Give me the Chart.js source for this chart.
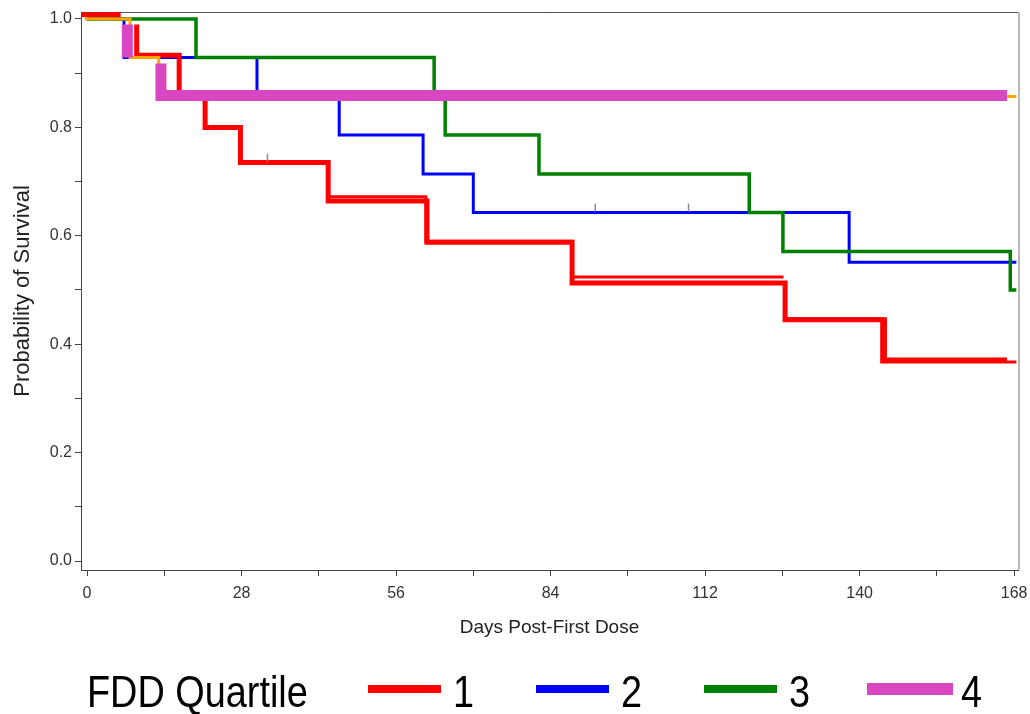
<!DOCTYPE html>
<html>
<head>
<meta charset="utf-8">
<script src="https://cdn.jsdelivr.net/npm/chart.js@4/dist/chart.umd.min.js"></script>
<style>
  html, body { margin: 0; padding: 0; background: #fff; }
  #wrap { position: relative; width: 1030px; height: 714px; overflow: hidden; }
  #c { position: absolute; left: 0; top: 0; }
  #legend { position: absolute; left: 87px; top: 670px; height: 44px; display: flex; align-items: center;
            font-family: "Liberation Sans", Arial, sans-serif;
            font-size: 44px; line-height: 44px; color: #000; white-space: nowrap; }
  #legend .box { display: inline-block; overflow: visible; }
  #legend .box > span { display: inline-block; transform: scaleX(0.86); transform-origin: 0 50%; }
  #legend .ttl { width: 221px; margin-right: 60px; }
  #legend .sw { display: inline-block; position: relative; top: -3px; margin-right: 12px; }
  #legend .sw.thick { margin-left: -5px; margin-right: 8px; }
  #legend .lb { width: 21px; margin-right: 62px; }
</style>
</head>
<body>
<div id="wrap">
  <canvas id="c" width="1030" height="714"></canvas>
  <div id="legend"></div>
</div>
<script>
// ---- Data (days post-first dose, survival probability) ----
const legendTitle = "FDD Quartile";
const xTitle = "Days Post-First Dose";
const yTitle = "Probability of Survival";
const xTickLabels = [0, 28, 56, 84, 112, 140, 168];
const yTickLabels = [0.0, 0.2, 0.4, 0.6, 0.8, 1.0];

// Quartile 1 (red) - main thick path (null = break in the line)
const q1Days = [-1.1, 6.1, 7.5, 9.0, 9.0, 16.7, 21.4, 27.8, 43.7, 61.6, 87.9, 126.5, 144.5, 166.7];
const q1Surv = [1.008, 1.008, null, 0.99, 0.933, 0.857, 0.800, 0.735, 0.664, 0.588, 0.513, 0.445, 0.371, 0.371];
// Quartile 1 (red) - second thinner overlapping path
const q1bDays = [43.5, 61.4, 87.8, 126.2, 126.5, 126.8, 144.0, 168.4];
const q1bSurv = [0.672, 0.590, 0.524, 0.524, null, 0.447, 0.367, 0.367];
// Quartile 2 (blue)
const q2Days = [0, 6.7, 30.8, 45.7, 60.9, 70.0, 138.1, 168.4];
const q2Surv = [1.0, 0.929, 0.857, 0.786, 0.714, 0.643, 0.551, 0.551];
// Quartile 3 (green)
const q3Days = [0, 19.75, 62.9, 64.9, 81.9, 120.0, 126.1, 167.3, 168.4];
const q3Surv = [1.0, 0.929, 0.857, 0.786, 0.714, 0.643, 0.571, 0.500, 0.500];
// Quartile 4 (magenta)
const q4Days = [7.3, 7.3, 10.0, 13.4, 13.4, 166.7];
const q4Surv = [0.99, 0.929, null, 0.918, 0.859, 0.859];
// Unlabelled orange curve (mostly hidden under quartile 4)
const otherDays = [-0.4, 7.8, 13.0, 168.4];
const otherSurv = [1.0, 0.929, 0.857, 0.857];
// Censoring marks
const censorDays = [32.7, 92.1, 109.0];
const censorSurv = [0.744, 0.652, 0.652];

const toPts = (xs, ys) => xs.map((x, i) => ({ x: x, y: ys[i] }));

function stepSet(label, days, surv, color, width, order) {
  return {
    label: label, data: toPts(days, surv), borderColor: color, backgroundColor: color,
    borderWidth: width, stepped: 'before', pointRadius: 0, pointHoverRadius: 0,
    spanGaps: false, fill: false, borderCapStyle: 'butt', borderJoinStyle: 'miter', order: order
  };
}

const datasets = [
  stepSet('1', q1Days, q1Surv, '#FF0000', 5, 2),
  stepSet('', q1bDays, q1bSurv, '#FF0000', 3, 3),
  stepSet('2', q2Days, q2Surv, '#0000FF', 3, 5),
  stepSet('3', q3Days, q3Surv, '#008000', 3.5, 4),
  stepSet('4', q4Days, q4Surv, '#D846C1', 11, 0),
  stepSet('', otherDays, otherSurv, '#FFA500', 3, 1),
  {
    label: '', data: toPts(censorDays, censorSurv), showLine: false,
    pointStyle: 'line', pointRotation: 90, pointRadius: 4, pointHoverRadius: 4,
    borderColor: '#8a8a8a', backgroundColor: '#8a8a8a', borderWidth: 1.5, order: -1
  }
];

const framePlugin = {
  id: 'frame',
  beforeDatasetsDraw(chart) {
    const a = chart.chartArea, ctx = chart.ctx;
    ctx.save();
    ctx.strokeStyle = '#555555'; ctx.lineWidth = 1;
    ctx.beginPath(); ctx.moveTo(a.left, a.top + 0.5); ctx.lineTo(a.right, a.top + 0.5); ctx.stroke();
    ctx.strokeStyle = '#b8b8b8'; ctx.lineWidth = 2;
    ctx.beginPath(); ctx.moveTo(a.right + 1, a.top); ctx.lineTo(a.right + 1, a.bottom); ctx.stroke();
    ctx.restore();
  }
};

const tickFont = { family: '"Liberation Sans", Arial, sans-serif', size: 16 };

new Chart(document.getElementById('c'), {
  type: 'line',
  data: { datasets: datasets },
  options: {
    responsive: false, animation: false, devicePixelRatio: 1,
    layout: { padding: { left: 0, top: 12, right: 12, bottom: 69 } },
    plugins: { legend: { display: false }, tooltip: { enabled: false } },
    events: [],
    scales: {
      x: {
        type: 'linear', min: -1.09, max: 168.7,
        afterFit: (s) => { s.height = 75; s.paddingLeft = 0; s.paddingRight = 0; },
        border: { color: '#444444', width: 1 },
        grid: { drawOnChartArea: false, drawTicks: true, tickLength: 6, color: '#444444' },
        ticks: {
          stepSize: 14, includeBounds: false, autoSkip: false, maxRotation: 0, padding: 8,
          color: '#333333', font: tickFont,
          callback: (v) => xTickLabels.includes(Math.round(v)) ? String(Math.round(v)) : ''
        },
        title: { display: true, text: xTitle, color: '#222222',
                 font: { family: '"Liberation Sans", Arial, sans-serif', size: 19 },
                 padding: { top: 0, bottom: 6 } }
      },
      y: {
        type: 'linear', min: -0.0166, max: 1.0129,
        afterFit: (s) => { s.width = 81; s.paddingTop = 0; s.paddingBottom = 0; },
        border: { color: '#444444', width: 1 },
        grid: { drawOnChartArea: false, drawTicks: true, tickLength: 6, color: '#444444' },
        ticks: {
          stepSize: 0.1, includeBounds: false, autoSkip: false, padding: 3,
          color: '#333333', font: tickFont,
          callback: (v) => {
            const r = Math.round(v * 10) / 10;
            return yTickLabels.some(t => Math.abs(t - r) < 1e-9) ? r.toFixed(1) : '';
          }
        },
        title: { display: true, text: yTitle, color: '#222222',
                 font: { family: '"Liberation Sans", Arial, sans-serif', size: 22 },
                 padding: { top: 10, bottom: 0 } }
      }
    }
  },
  plugins: [framePlugin]
});

// HTML legend built from the labelled datasets
const leg = document.getElementById('legend');
function textBox(cls, txt) {
  const b = document.createElement('span'); b.className = 'box ' + cls;
  const s = document.createElement('span'); s.textContent = txt; b.appendChild(s);
  return b;
}
leg.appendChild(textBox('ttl', legendTitle));
datasets.filter(d => d.label !== '').sort((a, b) => a.label.localeCompare(b.label)).forEach(d => {
  const thick = d.borderWidth > 6;
  const sw = document.createElement('span'); sw.className = thick ? 'sw thick' : 'sw';
  sw.style.width = (thick ? 86 : 73) + 'px';
  sw.style.height = (thick ? 12 : 8) + 'px';
  sw.style.background = d.borderColor;
  leg.appendChild(sw);
  leg.appendChild(textBox('lb', d.label));
});
</script>
</body>
</html>
